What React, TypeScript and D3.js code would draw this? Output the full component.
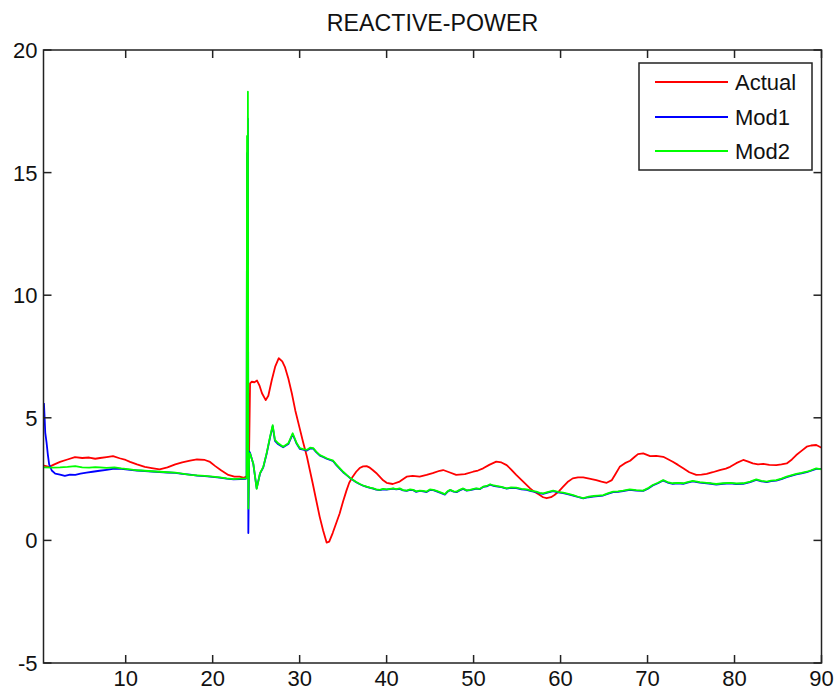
import React from "react";
import * as d3 from "d3";

const TITLE = "REACTIVE-POWER";
const X_DOMAIN = [0.55, 90];
const Y_DOMAIN = [-5, 20];
const xTicks = [10, 20, 30, 40, 50, 60, 70, 80, 90];
const yTicks = [-5, 0, 5, 10, 15, 20];
const seriesNames = ["Actual", "Mod1", "Mod2"];
const seriesColors = ["#ff0000", "#0000ff", "#00ff00"];

const actualX = [0.6, 1.2, 1.8, 2.45, 3.3, 4.17, 5.0, 5.8, 6.5, 7.05, 7.8, 8.54, 9.3, 10.0, 10.5, 11.3, 12.2, 13.0, 13.9, 14.8, 15.7, 16.5, 17.4, 18.2, 19.1, 19.7, 20.3, 21.0, 21.8, 22.5, 23.1, 23.6, 23.95, 24.15, 24.3, 24.5, 24.8, 25.1, 25.4, 25.67, 26.1, 26.4, 26.8, 27.2, 27.6, 28.0, 28.3, 28.7, 29.1, 29.5, 30.0, 30.4, 30.84, 31.15, 31.5, 31.9, 32.3, 32.7, 33.1, 33.4, 33.8, 34.2, 34.6, 35.0, 35.4, 35.7, 36.1, 36.5, 36.9, 37.3, 37.7, 38.0, 38.4, 38.8, 39.2, 39.6, 40.0, 40.7, 41.5, 42.3, 43.0, 43.8, 44.6, 45.3, 46.1, 46.5, 47.2, 48.0, 49.0, 49.95, 50.5, 51.1, 51.8, 52.6, 53.2, 53.8, 54.3, 54.9, 55.7, 56.5, 57.0, 57.6, 58.0, 58.4, 58.9, 59.3, 59.8, 60.3, 60.8, 61.4, 62.0, 62.6, 63.3, 64.1, 64.7, 65.3, 65.9, 66.3, 66.8, 67.4, 68.0, 68.5, 68.9, 69.5, 70.3, 71.0, 71.8, 72.3, 72.9, 73.5, 74.1, 74.8, 75.6, 76.2, 76.8, 77.5, 78.3, 79.0, 79.5, 80.2, 81.0, 81.5, 82.1, 82.7, 83.3, 84.0, 84.8, 85.4, 86.0, 86.6, 87.1, 87.7, 88.3, 88.8, 89.4, 90.0];
const actualY = [3.05, 3.0, 3.1, 3.2, 3.3, 3.4, 3.36, 3.38, 3.33, 3.36, 3.4, 3.44, 3.35, 3.28, 3.2, 3.1, 3.0, 2.95, 2.9, 2.98, 3.1, 3.18, 3.25, 3.3, 3.28, 3.2, 3.03, 2.85, 2.67, 2.6, 2.6, 2.55, 2.62, 2.6, 6.4, 6.47, 6.45, 6.52, 6.3, 6.0, 5.72, 5.9, 6.54, 7.1, 7.43, 7.3, 7.08, 6.6, 6.0, 5.3, 4.58, 4.0, 3.41, 2.9, 2.33, 1.65, 0.97, 0.4, -0.09, -0.05, 0.3, 0.7, 1.1, 1.6, 2.05, 2.35, 2.6, 2.8, 2.95, 3.02, 3.03, 2.98, 2.87, 2.75, 2.6, 2.45, 2.35, 2.3, 2.4, 2.6, 2.63, 2.6, 2.67, 2.74, 2.84, 2.87, 2.78, 2.67, 2.7, 2.8, 2.85, 2.94, 3.08, 3.21, 3.18, 3.07, 2.9, 2.67, 2.4, 2.12, 1.98, 1.85, 1.76, 1.72, 1.76, 1.85, 2.0, 2.19, 2.38, 2.53, 2.57, 2.57, 2.52, 2.46, 2.4, 2.35, 2.46, 2.7, 3.0, 3.15, 3.25, 3.4, 3.52, 3.55, 3.44, 3.45, 3.41, 3.32, 3.21, 3.08, 2.94, 2.78, 2.67, 2.68, 2.71, 2.78, 2.87, 2.93, 3.0, 3.15, 3.28, 3.22, 3.14, 3.1, 3.12, 3.08, 3.07, 3.1, 3.14, 3.3, 3.48, 3.65, 3.82, 3.87, 3.89, 3.78];

const mod1X = [0.6, 0.68, 0.75, 0.9, 1.05, 1.2, 1.5, 1.9, 2.45, 3.0, 3.6, 4.2, 4.8, 5.5, 6.2, 7.0, 7.8, 8.7, 9.5, 10.5, 11.3, 12.2, 13.0, 13.9, 14.8, 15.7, 16.5, 17.4, 18.2, 19.1, 20.0, 20.8, 21.6, 22.4, 23.2, 23.8, 23.9, 23.95, 24.0, 24.05, 24.1, 24.2, 24.29, 24.67, 25.06, 25.44, 25.82, 26.2, 26.6, 26.9, 27.16, 27.54, 28.1, 28.7, 29.2, 29.66, 30.03, 30.4, 30.8, 31.2, 31.56, 31.9, 32.33, 32.7, 33.1, 33.5, 33.86, 34.2, 34.63, 35.0, 35.4, 35.8, 36.16, 36.5, 36.93, 37.3, 37.7, 38.1, 38.46, 38.8, 39.2, 39.6, 40.0, 40.4, 40.76, 41.1, 41.5, 41.9, 42.3, 42.7, 43.05, 43.4, 43.8, 44.2, 44.6, 44.98, 45.36, 45.75, 46.2, 46.7, 47.0, 47.3, 47.7, 48.05, 48.4, 48.8, 49.2, 49.6, 50.0, 50.3, 50.7, 51.1, 51.5, 51.9, 52.3, 52.6, 53.2, 53.8, 54.3, 54.9, 55.5, 56.1, 56.6, 57.2, 57.6, 58.0, 58.6, 59.15, 59.7, 60.3, 60.9, 61.45, 62.0, 62.6, 63.2, 63.75, 64.3, 64.9, 65.5, 66.05, 66.6, 67.2, 67.96, 68.7, 69.5, 70.0, 70.6, 71.2, 71.8, 72.3, 72.9, 73.5, 74.1, 74.6, 75.2, 76.0, 76.8, 77.3, 77.9, 78.7, 79.5, 80.2, 81.0, 81.8, 82.5, 83.1, 83.7, 84.2, 84.8, 85.4, 86.0, 86.6, 87.1, 87.7, 88.3, 88.8, 89.4, 90.0];
const mod1Y = [5.6, 5.0, 4.4, 4.0, 3.5, 3.1, 2.85, 2.72, 2.68, 2.63, 2.68, 2.67, 2.72, 2.76, 2.8, 2.84, 2.88, 2.93, 2.92, 2.88, 2.85, 2.83, 2.81, 2.79, 2.77, 2.75, 2.71, 2.68, 2.64, 2.62, 2.59, 2.56, 2.52, 2.49, 2.5, 2.51, 2.55, 15.8, 2.8, 17.2, 0.3, 3.62, 3.58, 3.12, 2.12, 2.72, 2.98, 3.52, 4.2, 4.66, 4.06, 3.92, 3.8, 3.93, 4.33, 3.94, 3.73, 3.7, 3.66, 3.75, 3.74, 3.6, 3.46, 3.4, 3.33, 3.28, 3.23, 3.08, 2.92, 2.78, 2.66, 2.54, 2.45, 2.37, 2.29, 2.23, 2.18, 2.14, 2.11, 2.07, 2.05, 2.08, 2.07, 2.09, 2.11, 2.08, 2.1, 2.04, 2.02, 2.06, 2.05, 1.98, 2.02, 2.0, 1.97, 2.06, 2.05, 2.0, 1.94, 1.87, 1.98, 2.05, 1.99, 1.97, 2.04, 2.1, 2.03, 2.05, 2.08, 2.11, 2.09, 2.18, 2.2, 2.27, 2.22, 2.2, 2.17, 2.11, 2.14, 2.13, 2.08, 2.06, 2.01, 1.97, 1.92, 1.9, 1.96, 2.01, 1.96, 1.93, 1.88, 1.83, 1.77, 1.71, 1.76, 1.79, 1.81, 1.83, 1.91, 1.97, 1.98, 2.01, 2.06, 2.03, 2.02, 2.1, 2.24, 2.33, 2.44, 2.36, 2.31, 2.33, 2.31, 2.36, 2.41, 2.36, 2.33, 2.31, 2.28, 2.31, 2.33, 2.3, 2.31, 2.38, 2.47, 2.41, 2.38, 2.42, 2.44, 2.5, 2.58, 2.64, 2.69, 2.73, 2.78, 2.84, 2.92, 2.92];

const mod2X = [0.6, 1.5, 2.45, 3.3, 4.2, 5.0, 5.8, 6.5, 7.05, 7.8, 8.7, 9.5, 10.5, 11.3, 12.2, 13.0, 13.9, 14.8, 15.7, 16.5, 17.4, 18.2, 19.1, 20.0, 20.8, 21.6, 22.4, 23.2, 23.8, 23.9, 23.95, 24.0, 24.05, 24.1, 24.2, 24.29, 24.67, 25.06, 25.44, 25.82, 26.2, 26.6, 26.9, 27.16, 27.54, 28.1, 28.7, 29.2, 29.66, 30.03, 30.4, 30.8, 31.2, 31.56, 31.9, 32.33, 32.7, 33.1, 33.5, 33.86, 34.2, 34.63, 35.0, 35.4, 35.8, 36.16, 36.5, 36.93, 37.3, 37.7, 38.1, 38.46, 38.8, 39.2, 39.6, 40.0, 40.4, 40.76, 41.1, 41.5, 41.9, 42.3, 42.7, 43.05, 43.4, 43.8, 44.2, 44.6, 44.98, 45.36, 45.75, 46.2, 46.7, 47.0, 47.3, 47.7, 48.05, 48.4, 48.8, 49.2, 49.6, 50.0, 50.3, 50.7, 51.1, 51.5, 51.9, 52.3, 52.6, 53.2, 53.8, 54.3, 54.9, 55.5, 56.1, 56.6, 57.2, 57.6, 58.0, 58.6, 59.15, 59.7, 60.3, 60.9, 61.45, 62.0, 62.6, 63.2, 63.75, 64.3, 64.9, 65.5, 66.05, 66.6, 67.2, 67.96, 68.7, 69.5, 70.0, 70.6, 71.2, 71.8, 72.3, 72.9, 73.5, 74.1, 74.6, 75.2, 76.0, 76.8, 77.3, 77.9, 78.7, 79.5, 80.2, 81.0, 81.8, 82.5, 83.1, 83.7, 84.2, 84.8, 85.4, 86.0, 86.6, 87.1, 87.7, 88.3, 88.8, 89.4, 90.0];
const mod2Y = [2.98, 2.97, 2.98, 3.0, 3.03, 2.98, 2.97, 2.99, 2.98, 2.96, 2.98, 2.94, 2.9, 2.86, 2.84, 2.82, 2.8, 2.78, 2.76, 2.72, 2.67, 2.65, 2.63, 2.6, 2.57, 2.53, 2.5, 2.52, 2.53, 2.55, 16.5, 2.8, 18.3, 1.3, 3.55, 3.55, 3.14, 2.1, 2.74, 3.0, 3.55, 4.23, 4.7, 4.1, 3.96, 3.82, 3.96, 4.37, 3.96, 3.76, 3.72, 3.69, 3.78, 3.76, 3.62, 3.48, 3.42, 3.35, 3.3, 3.25, 3.1, 2.94, 2.8, 2.67, 2.55, 2.46, 2.38, 2.3, 2.24, 2.19, 2.15, 2.12, 2.08, 2.06, 2.1, 2.08, 2.1, 2.12, 2.09, 2.12, 2.05, 2.03, 2.08, 2.06, 2.0, 2.03, 2.02, 1.99, 2.08, 2.06, 2.02, 1.96, 1.89, 2.0, 2.06, 2.0, 1.99, 2.06, 2.12, 2.04, 2.06, 2.1, 2.12, 2.1, 2.19, 2.22, 2.29, 2.24, 2.22, 2.18, 2.12, 2.16, 2.15, 2.1, 2.08, 2.03, 1.99, 1.94, 1.92, 1.98, 2.03, 1.98, 1.95, 1.9, 1.85, 1.78, 1.72, 1.78, 1.81, 1.83, 1.85, 1.93, 1.99, 2.0, 2.03, 2.08, 2.05, 2.03, 2.12, 2.26, 2.35, 2.46, 2.38, 2.33, 2.35, 2.33, 2.38, 2.43, 2.38, 2.35, 2.33, 2.3, 2.33, 2.35, 2.32, 2.33, 2.4, 2.49, 2.43, 2.4, 2.44, 2.46, 2.52, 2.6, 2.66, 2.71, 2.75, 2.8, 2.86, 2.94, 2.9];

const seriesX = [actualX, mod1X, mod2X];
const seriesY = [actualY, mod1Y, mod2Y];

const W = 840;
const H = 694;
const plot = { left: 43.5, right: 821.5, top: 50, bottom: 663 };
const FONT = "'Liberation Sans', Arial, sans-serif";

export default function App() {
  const x = d3.scaleLinear().domain(X_DOMAIN).range([plot.left, plot.right]);
  const y = d3.scaleLinear().domain(Y_DOMAIN).range([plot.bottom, plot.top]);
  const line = d3
    .line<[number, number]>()
    .x((d) => x(d[0]))
    .y((d) => y(d[1]));

  const tickLen = 8;
  const legend = { x0: 639, y0: 63, x1: 812, y1: 170 };
  const legendRows = [82, 117, 151];

  return (
    <svg
      width={W}
      height={H}
      style={{ position: "absolute", left: 0, top: 0, background: "#fff" }}
      fontFamily={FONT}
    >
      <rect x={0} y={0} width={W} height={H} fill="#fff" />
      <defs>
        <clipPath id="plotclip">
          <rect
            x={plot.left}
            y={plot.top}
            width={plot.right - plot.left}
            height={plot.bottom - plot.top}
          />
        </clipPath>
      </defs>
      <text
        x={(plot.left + plot.right) / 2}
        y={31}
        textAnchor="middle"
        fontSize={23.2}
        fill="#111"
      >
        {TITLE}
      </text>

      <g clipPath="url(#plotclip)">
        {seriesX.map((xs, i) => {
          const pts = xs.map((v, j) => [v, seriesY[i][j]] as [number, number]);
          return (
            <path
              key={seriesNames[i]}
              d={line(pts) || ""}
              fill="none"
              stroke={seriesColors[i]}
              strokeWidth={1.8}
              strokeLinejoin="round"
            />
          );
        })}
      </g>

      {/* axes box */}
      <rect
        x={plot.left}
        y={plot.top}
        width={plot.right - plot.left}
        height={plot.bottom - plot.top}
        fill="none"
        stroke="#222"
        strokeWidth={1.5}
      />
      {xTicks.map((t) => (
        <g key={"xt" + t}>
          <line x1={x(t)} x2={x(t)} y1={plot.bottom} y2={plot.bottom - tickLen} stroke="#222" strokeWidth={1.5} />
          <line x1={x(t)} x2={x(t)} y1={plot.top} y2={plot.top + tickLen} stroke="#222" strokeWidth={1.5} />
          <text x={x(t)} y={686} textAnchor="middle" fontSize={22} fill="#111">
            {t}
          </text>
        </g>
      ))}
      {yTicks.map((t) => (
        <g key={"yt" + t}>
          <line x1={plot.left} x2={plot.left + tickLen} y1={y(t)} y2={y(t)} stroke="#222" strokeWidth={1.5} />
          <line x1={plot.right} x2={plot.right - tickLen} y1={y(t)} y2={y(t)} stroke="#222" strokeWidth={1.5} />
          <text x={37.5} y={y(t)} dy="0.36em" textAnchor="end" fontSize={22} fill="#111">
            {t}
          </text>
        </g>
      ))}

      {/* legend */}
      <rect
        x={legend.x0}
        y={legend.y0}
        width={legend.x1 - legend.x0}
        height={legend.y1 - legend.y0}
        fill="#fff"
        stroke="#222"
        strokeWidth={1.5}
      />
      {seriesNames.map((n, i) => (
        <g key={"lg" + n}>
          <line x1={655} x2={728} y1={legendRows[i]} y2={legendRows[i]} stroke={seriesColors[i]} strokeWidth={1.8} />
          <text x={735} y={legendRows[i]} dy="0.36em" fontSize={22} fill="#111">
            {n}
          </text>
        </g>
      ))}
    </svg>
  );
}
